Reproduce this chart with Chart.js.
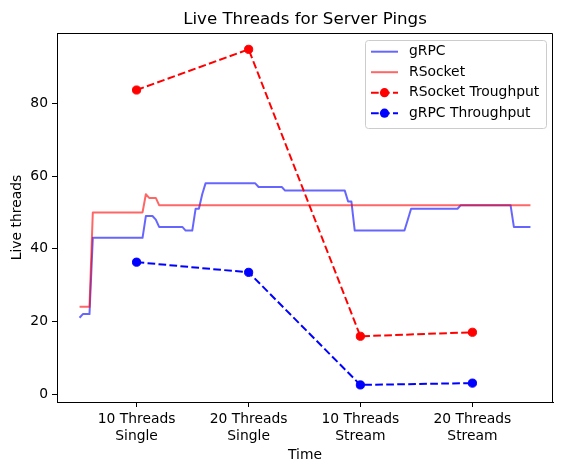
<!DOCTYPE html>
<html>
<head>
<meta charset="utf-8">
<script src="https://cdn.jsdelivr.net/npm/chart.js@4.4.0/dist/chart.umd.min.js"></script>
<style>
    body { margin: 0; background: #fff; }
    #khung { width: 562px; height: 471px; }
</style>
</head>
<body>
<div id="khung"><canvas id="bieuDo"></canvas></div>
<script>
// các giai đoạn test (vị trí tính theo số thứ tự mẫu)
const phaseLabels = [["10 Threads", "Single"], ["20 Threads", "Single"], ["10 Threads", "Stream"], ["20 Threads", "Stream"]];
const phaseX = [17.2, 51.0, 84.7, 118.5];
const rsocketThroughput = [83.7, 94.9, 15.9, 17.0];
const grpcThroughput = [36.3, 33.5, 2.5, 3.0];
const yTicks = [0, 20, 40, 60, 80];

// số thread sống theo thời gian (mỗi mẫu một giá trị)
const grpcThreads = [
    21, 22, 22, 22, 43, 43, 43, 43, 43, 43,
    43, 43, 43, 43, 43, 43, 43, 43, 43, 43,
    49, 49, 49, 48, 46, 46, 46, 46, 46, 46,
    46, 46, 45, 45, 45, 51, 51, 55, 58, 58,
    58, 58, 58, 58, 58, 58, 58, 58, 58, 58,
    58, 58, 58, 58, 57, 57, 57, 57, 57, 57,
    57, 57, 56, 56, 56, 56, 56, 56, 56, 56,
    56, 56, 56, 56, 56, 56, 56, 56, 56, 56,
    56, 53, 53, 45, 45, 45, 45, 45, 45, 45,
    45, 45, 45, 45, 45, 45, 45, 45, 45, 48,
    51, 51, 51, 51, 51, 51, 51, 51, 51, 51,
    51, 51, 51, 51, 51, 52, 52, 52, 52, 52,
    52, 52, 52, 52, 52, 52, 52, 52, 52, 52,
    52, 46, 46, 46, 46, 46, 46
];
const rsocketThreads = [
    24, 24, 24, 24, 50, 50, 50, 50, 50, 50,
    50, 50, 50, 50, 50, 50, 50, 50, 50, 50,
    55, 54, 54, 54, 52, 52, 52, 52, 52, 52,
    52, 52, 52, 52, 52, 52, 52, 52, 52, 52,
    52, 52, 52, 52, 52, 52, 52, 52, 52, 52,
    52, 52, 52, 52, 52, 52, 52, 52, 52, 52,
    52, 52, 52, 52, 52, 52, 52, 52, 52, 52,
    52, 52, 52, 52, 52, 52, 52, 52, 52, 52,
    52, 52, 52, 52, 52, 52, 52, 52, 52, 52,
    52, 52, 52, 52, 52, 52, 52, 52, 52, 52,
    52, 52, 52, 52, 52, 52, 52, 52, 52, 52,
    52, 52, 52, 52, 52, 52, 52, 52, 52, 52,
    52, 52, 52, 52, 52, 52, 52, 52, 52, 52,
    52, 52, 52, 52, 52, 52, 52
];

const FONT = "DejaVu Sans";
const CO_CHU = 13.89; // 10pt ở 100dpi

// khung viền trên + phải giống matplotlib
const veKhung = {
    id: "veKhung",
    afterDatasetsDraw(chart) {
        const { ctx, chartArea: a } = chart;
        ctx.save();
        ctx.strokeStyle = "#000";
        ctx.lineWidth = 1;
        ctx.beginPath();
        ctx.moveTo(Math.round(a.left) + 0.5, Math.round(a.top) + 0.5);
        ctx.lineTo(Math.round(a.right) - 0.5, Math.round(a.top) + 0.5);
        ctx.lineTo(Math.round(a.right) - 0.5, Math.round(a.bottom));
        ctx.stroke();
        ctx.restore();
    },
};

// chú giải góc trên phải
const veChuGiai = {
    id: "veChuGiai",
    afterDraw(chart) {
        const ctx = chart.ctx;
        const x0 = 365, y0 = 40, w = 181, h = 88;
        ctx.save();
        ctx.fillStyle = "rgba(255,255,255,0.8)";
        ctx.strokeStyle = "#cccccc";
        ctx.lineWidth = 1;
        ctx.beginPath();
        if (ctx.roundRect) ctx.roundRect(x0 + 0.5, y0 + 0.5, w, h, 3);
        else ctx.rect(x0 + 0.5, y0 + 0.5, w, h);
        ctx.fill();
        ctx.stroke();

        chart.data.datasets.forEach((ds, i) => {
            const y = 51.7 + i * 20.5;
            ctx.setLineDash(ds.borderDash || []);
            ctx.strokeStyle = ds.borderColor;
            ctx.lineWidth = 2;
            ctx.beginPath();
            ctx.moveTo(371, y);
            ctx.lineTo(398, y);
            ctx.stroke();
            ctx.setLineDash([]);
            if (ds.pointRadius > 0) {
                ctx.fillStyle = ds.borderColor;
                ctx.beginPath();
                ctx.arc(384.5, y, 4.6, 0, Math.PI * 2);
                ctx.fill();
            }
            ctx.fillStyle = "#000";
            ctx.font = CO_CHU + "px '" + FONT + "'";
            ctx.textBaseline = "middle";
            ctx.fillText(ds.label, 409, y);
        });
        ctx.restore();
    },
};

const ctx = document.getElementById("bieuDo").getContext("2d");

new Chart(ctx, {
    type: "line",
    data: {
        datasets: [
            {
                label: "gRPC",
                data: grpcThreads.map((v, i) => ({ x: i, y: v })),
                borderColor: "rgba(0,0,255,0.6)",
                borderWidth: 2,
                pointRadius: 0,
                borderJoinStyle: "round",
                order: 4,
            },
            {
                label: "RSocket",
                data: rsocketThreads.map((v, i) => ({ x: i, y: v })),
                borderColor: "rgba(255,0,0,0.6)",
                borderWidth: 2,
                pointRadius: 0,
                borderJoinStyle: "round",
                order: 3,
            },
            {
                label: "RSocket Troughput",
                data: rsocketThroughput.map((v, i) => ({ x: phaseX[i], y: v })),
                borderColor: "#ff0000",
                backgroundColor: "#ff0000",
                borderWidth: 2,
                borderDash: [7.7, 3.3],
                pointRadius: 4.1,
                pointBorderWidth: 1,
                pointBackgroundColor: "#ff0000",
                pointBorderColor: "#ff0000",
                order: 2,
            },
            {
                label: "gRPC Throughput",
                data: grpcThroughput.map((v, i) => ({ x: phaseX[i], y: v })),
                borderColor: "#0000ff",
                backgroundColor: "#0000ff",
                borderWidth: 2,
                borderDash: [7.7, 3.3],
                pointRadius: 4.1,
                pointBorderWidth: 1,
                pointBackgroundColor: "#0000ff",
                pointBorderColor: "#0000ff",
                order: 1,
            },
        ],
    },
    options: {
        responsive: true,
        maintainAspectRatio: false,
        animation: false,
        devicePixelRatio: 1,
        layout: { padding: { top: 0, right: 9, bottom: 0, left: 0 } },
        plugins: {
            legend: { display: false },
            tooltip: { enabled: false },
            title: {
                display: true,
                text: "Live Threads for Server Pings",
                color: "#000",
                fullSize: false,
                font: { family: FONT, size: 16.67, weight: "normal", lineHeight: "20px" },
                padding: { top: 9.3, bottom: 3.7 },
            },
        },
        scales: {
            x: {
                type: "linear",
                min: -6.8,
                max: 142.8,
                afterBuildTicks: (s) => { s.ticks = phaseX.map((v) => ({ value: v })); },
                afterFit: (s) => { s.height = 69; },
                ticks: {
                    callback: (v, i) => phaseLabels[i],
                    color: "#000",
                    font: { family: FONT, size: CO_CHU, lineHeight: 1.2 },
                    padding: 4,
                    maxRotation: 0,
                    autoSkip: false,
                },
                grid: { drawOnChartArea: false, drawTicks: true, tickLength: 5, color: "#000", lineWidth: 1 },
                border: { display: true, color: "#000", width: 1 },
                title: {
                    display: true,
                    text: "Time",
                    color: "#000",
                    font: { family: FONT, size: CO_CHU, lineHeight: 1.2 },
                    padding: { top: 0, bottom: 7.5 },
                },
            },
            y: {
                type: "linear",
                min: -2.2,
                max: 99.4,
                afterBuildTicks: (s) => { s.ticks = yTicks.map((v) => ({ value: v })); },
                afterFit: (s) => { s.width = 57; },
                ticks: {
                    color: "#000",
                    font: { family: FONT, size: CO_CHU, lineHeight: 1.2 },
                    padding: 4,
                },
                grid: { drawOnChartArea: false, drawTicks: true, tickLength: 5, color: "#000", lineWidth: 1 },
                border: { display: true, color: "#000", width: 1 },
                title: {
                    display: true,
                    text: "Live threads",
                    color: "#000",
                    font: { family: FONT, size: CO_CHU, lineHeight: 1.2 },
                    padding: { top: 9, bottom: 0 },
                },
            },
        },
    },
    plugins: [veKhung, veChuGiai],
});
</script>
</body>
</html>
